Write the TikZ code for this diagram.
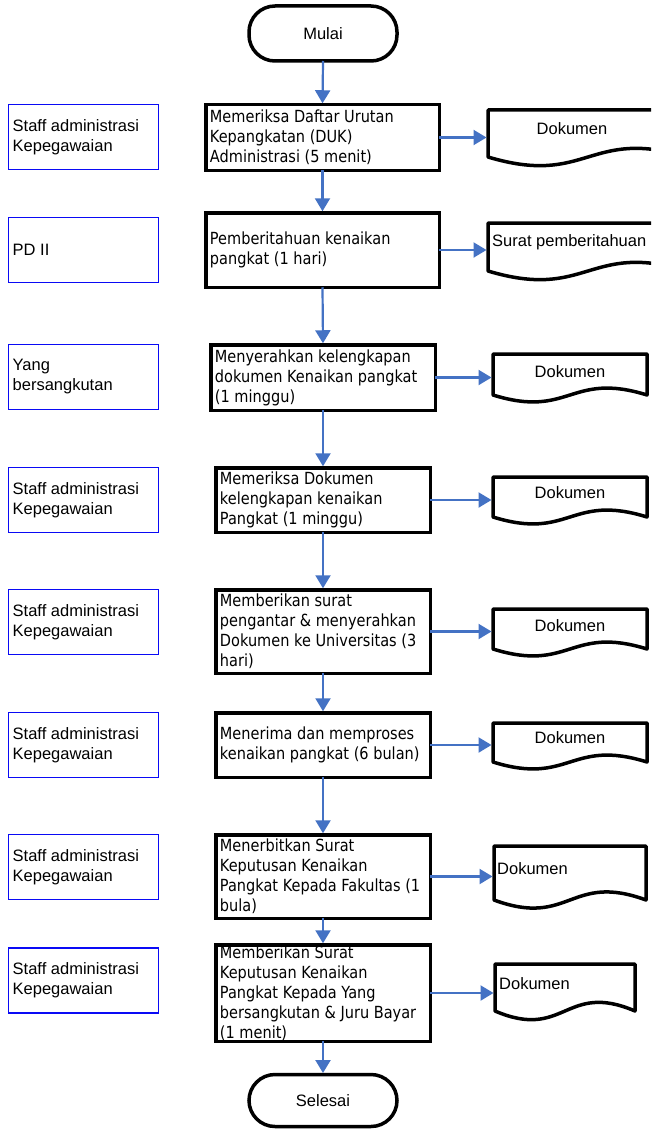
\documentclass[tikz,border=0pt]{standalone}
\usepackage{fontspec}
\setmainfont{Liberation Sans}
\newfontfamily\tahoma[FakeStretch=0.87]{DejaVu Sans}
\usetikzlibrary{arrows.meta,calc}
\definecolor{arrowblue}{RGB}{68,114,196}
\definecolor{laneblue}{RGB}{10,10,245}
\newcommand{\drawdoc}[2]{\draw[docline] (#1.south west) -- (#1.north west) -- (#1.north east) -- (#1.south east) .. controls ($(#1.south)+(0,-#2)$) and ($(#1.south)+(0,#2)$) .. (#1.south west) -- cycle;}
\begin{document}
\begin{tikzpicture}[x=1pt,y=-1pt,
  proc/.style={draw=black, line width=3.5pt, inner sep=0pt, outer sep=0pt},
  ptext/.style={font=\tahoma\fontsize{16.7}{20}\selectfont, align=left, inner sep=0pt, anchor=west},
  lane/.style={draw=laneblue, line width=1.2pt, inner sep=0pt, outer sep=0pt, minimum width=150pt, minimum height=65pt},
  ltext/.style={font=\fontsize{16.5}{20}\selectfont, align=left, inner sep=0pt, anchor=west},
  term/.style={draw=black, line width=3.5pt, rounded corners=26pt, minimum width=148pt, inner sep=0pt, outer sep=0pt, font=\fontsize{16.5}{20}\selectfont},
  docnode/.style={inner sep=0pt, outer sep=0pt, anchor=north west},
  docline/.style={draw=black, line width=3.5pt, line join=round},
  dtext/.style={font=\fontsize{16.5}{20}\selectfont, inner sep=0pt},
  flow/.style={draw=arrowblue, line width=2.2pt, shorten >=1.5pt, -{Triangle[length=13pt,width=15pt]}}]
\useasboundingbox (0,0) rectangle (651,1129);
\clip (0,0) rectangle (651,1129);
\fill[white] (0,0) rectangle (651,1129);

% terminals
\node[term, minimum height=55pt] (start) at (323,33.5) {Mulai};
\node[term, minimum height=52pt] (end) at (323,1100.5) {Selesai};

% process boxes
\node[proc, minimum width=233.5pt, minimum height=65.5pt] (b1) at (322.5,137.5) {};
\node[proc, minimum width=233.5pt, minimum height=74.5pt] (b2) at (322.5,250) {};
\node[proc, minimum width=224.5pt, minimum height=65.5pt] (b3) at (323,377.5) {};
\node[proc, minimum width=214.5pt, minimum height=64.5pt] (b4) at (323,500) {};
\node[proc, minimum width=214.5pt, minimum height=83.5pt] (b5) at (323,631.5) {};
\node[proc, minimum width=214.5pt, minimum height=64.5pt] (b6) at (323,745) {};
\node[proc, minimum width=214.5pt, minimum height=83.5pt] (b7) at (323,876.5) {};
\node[proc, minimum width=214.5pt, minimum height=96.5pt] (b8) at (323,993) {};

\node[ptext] (b1t) at ([xshift=4pt]b1.west) {Memeriksa Daftar Urutan\\Kepangkatan (DUK)\\Administrasi (5 menit)};
\node[ptext] (b2t) at ([xshift=4pt]b2.west) {Pemberitahuan kenaikan\\pangkat (1 hari)};
\node[ptext] (b3t) at ([xshift=4pt]b3.west) {Menyerahkan kelengkapan\\dokumen Kenaikan pangkat\\(1 minggu)};
\node[ptext] (b4t) at ([xshift=4pt]b4.west) {Memeriksa Dokumen\\kelengkapan kenaikan\\Pangkat (1 minggu)};
\node[ptext] (b5t) at ([xshift=4pt]b5.west) {Memberikan surat\\pengantar \& menyerahkan\\Dokumen ke Universitas (3\\hari)};
\node[ptext] (b6t) at ([xshift=4pt]b6.west) {Menerima dan memproses\\kenaikan pangkat (6 bulan)};
\node[ptext] (b7t) at ([xshift=4pt]b7.west) {Menerbitkan Surat\\Keputusan Kenaikan\\Pangkat Kepada Fakultas (1\\bula)};
\node[ptext] (b8t) at ([xshift=4pt]b8.west) {Memberikan Surat\\Keputusan Kenaikan\\Pangkat Kepada Yang\\bersangkutan \& Juru Bayar\\(1 menit)};

% lane boxes
\node[lane] (l1) at (83.5,137) {};
\node[lane] (l2) at (83.5,250) {};
\node[lane] (l3) at (83.5,377) {};
\node[lane] (l4) at (83.5,500) {};
\node[lane] (l5) at (83.5,622) {};
\node[lane] (l6) at (83.5,745) {};
\node[lane] (l7) at (83.5,867) {};
\node[lane] (l8) at (83.5,980.5) {};
\node[ltext] (l1t) at ([xshift=4pt]l1.west) {Staff administrasi\\Kepegawaian};
\node[ltext] (l2t) at ([xshift=4pt]l2.west) {PD II};
\node[ltext] (l3t) at ([xshift=4pt]l3.west) {Yang\\bersangkutan};
\node[ltext] (l4t) at ([xshift=4pt]l4.west) {Staff administrasi\\Kepegawaian};
\node[ltext] (l5t) at ([xshift=4pt]l5.west) {Staff administrasi\\Kepegawaian};
\node[ltext] (l6t) at ([xshift=4pt]l6.west) {Staff administrasi\\Kepegawaian};
\node[ltext] (l7t) at ([xshift=4pt]l7.west) {Staff administrasi\\Kepegawaian};
\node[ltext] (l8t) at ([xshift=4pt]l8.west) {Staff administrasi\\Kepegawaian};

% documents
\node[docnode, minimum width=200pt, minimum height=47pt] (d1) at (488,110) {};
\node[docnode, minimum width=200pt, minimum height=48pt] (d2) at (488,223) {};
\node[docnode, minimum width=154pt, minimum height=41pt] (d3) at (493,354) {};
\node[docnode, minimum width=154pt, minimum height=40pt] (d4) at (493,477) {};
\node[docnode, minimum width=154pt, minimum height=40pt] (d5) at (493,609) {};
\node[docnode, minimum width=154pt, minimum height=39pt] (d6) at (493,723) {};
\node[docnode, minimum width=152pt, minimum height=54pt] (d7) at (494,846) {};
\node[docnode, minimum width=140pt, minimum height=47pt] (d8) at (495,964) {};
\drawdoc{d1}{30}
\drawdoc{d2}{30}
\drawdoc{d3}{24}
\drawdoc{d4}{24}
\drawdoc{d5}{24}
\drawdoc{d6}{24}
\drawdoc{d7}{28}
\drawdoc{d8}{30}
\node[dtext] (d1t) at (572,129) {Dokumen};
\node[dtext, anchor=west] (d2t) at (492,242) {Surat pemberitahuan};
\node[dtext] (d3t) at (570,372) {Dokumen};
\node[dtext] (d4t) at (570,493) {Dokumen};
\node[dtext] (d5t) at (570,626) {Dokumen};
\node[dtext] (d6t) at (570,738) {Dokumen};
\node[dtext, anchor=west] (d7t) at (497,869) {Dokumen};
\node[dtext, anchor=west] (d8t) at (499,984) {Dokumen};

% vertical flow
\draw[flow] (start.south) -- (b1.north);
\draw[flow] (b1.south) -- (b2.north);
\draw[flow] (b2.south) -- (b3.north);
\draw[flow] (b3.south) -- (b4.north);
\draw[flow] (b4.south) -- (b5.north);
\draw[flow] (b5.south) -- (b6.north);
\draw[flow] (b6.south) -- (b7.north);
\draw[flow] (b7.south) -- (b8.north);
\draw[flow] (b8.south) -- (end.north);

% horizontal flow to documents
\draw[flow] (b1.east) -- (b1.east -| d1.west);
\draw[flow] (b2.east) -- (b2.east -| d2.west);
\draw[flow] (b3.east) -- (b3.east -| d3.west);
\draw[flow] (b4.east) -- (b4.east -| d4.west);
\draw[flow] (b5.east) -- (b5.east -| d5.west);
\draw[flow] (b6.east) -- (b6.east -| d6.west);
\draw[flow] (b7.east) -- (b7.east -| d7.west);
\draw[flow] (b8.east) -- (b8.east -| d8.west);
\end{tikzpicture}
\end{document}
